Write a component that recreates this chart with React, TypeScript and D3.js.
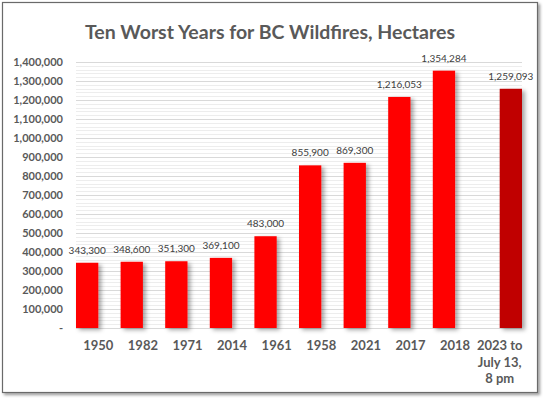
import React, { useEffect } from "react";
import * as d3 from "d3";

const categories: string[] = ["1950", "1982", "1971", "2014", "1961", "1958", "2021", "2017", "2018", "2023 to|July 13,|8 pm"];
const historicValues: (number | null)[] = [343300, 348600, 351300, 369100, 483000, 855900, 869300, 1216053, 1354284, null];
const currentValues: (number | null)[] = [null, null, null, null, null, null, null, null, null, 1259093];
const yTicks: number[] = [0, 100000, 200000, 300000, 400000, 500000, 600000, 700000, 800000, 900000, 1000000, 1100000, 1200000, 1300000, 1400000];

const W = 549;
const H = 401;
const FONT = "Lato, 'Open Sans', sans-serif";

export default function App() {
  useEffect(() => {
    document.body.style.margin = "0";
  }, []);

  const x = d3.scaleBand<string>().domain(categories).range([76, 522]).paddingInner(0).paddingOuter(0);
  const y = d3.scaleLinear().domain([0, 1400000]).range([328, 62]);
  const minorTicks = d3.range(0, 1400001, 20000).filter((v) => v % 100000 !== 0);
  const fmt = d3.format(",");
  const bw = x.bandwidth() / 2;

  const bars: { key: string; x: number; v: number; color: string }[] = [];
  categories.forEach((c, i) => {
    const a = historicValues[i];
    const b = currentValues[i];
    if (a != null) bars.push({ key: c + "a", x: x(c)!, v: a, color: "#FF0000" });
    if (b != null) bars.push({ key: c + "b", x: x(c)! + bw, v: b, color: "#C00000" });
  });

  return (
    <svg width={W} height={H} style={{ display: "block" }} fontFamily={FONT}>
      <defs>
        <filter id="barShadow" x="-30%" y="-10%" width="170%" height="130%">
          <feDropShadow dx="3" dy="2" stdDeviation="2" floodColor="#000" floodOpacity="0.35" />
        </filter>
        <filter id="frameShadow" x="-5%" y="-5%" width="110%" height="110%">
          <feDropShadow dx="2" dy="2" stdDeviation="1.5" floodColor="#000" floodOpacity="0.4" />
        </filter>
      </defs>
      <rect x={0} y={0} width={W} height={H} fill="#fff" />
      <rect x={2.5} y={2.5} width={535} height={390} fill="#fff" stroke="#6b6b6b" strokeWidth={1.2} filter="url(#frameShadow)" />
      <text x={270} y={39} textAnchor="middle" fontSize={19.5} fontWeight={700} fill="#595959">
        Ten Worst Years for BC Wildfires, Hectares
      </text>
      {minorTicks.map((t) => (
        <line key={"m" + t} x1={76} x2={522} y1={Math.round(y(t)) + 0.5} y2={Math.round(y(t)) + 0.5} stroke="#ededed" strokeWidth={1} />
      ))}
      {yTicks.map((t) => (
        <line key={"g" + t} x1={76} x2={522} y1={Math.round(y(t)) + 0.5} y2={Math.round(y(t)) + 0.5} stroke="#d9d9d9" strokeWidth={1} />
      ))}
      {yTicks.map((t) => (
        <text key={"yt" + t} x={63} y={y(t)} dy="0.35em" textAnchor="end" fontSize={11} fontWeight={700} fill="#595959">
          {t === 0 ? "-" : fmt(t)}
        </text>
      ))}
      {bars.map((b) => (
        <rect key={b.key} x={b.x} y={y(b.v)} width={bw} height={y(0) - y(b.v)} fill={b.color} filter="url(#barShadow)" />
      ))}
      {bars.map((b) => (
        <text key={"l" + b.key} x={b.x + bw / 2} y={y(b.v) - 9} textAnchor="middle" fontSize={10} fill="#404040">
          {fmt(b.v)}
        </text>
      ))}
      {categories.map((c) => (
        <text key={"c" + c} x={x(c)! + x.bandwidth() / 2} y={350} textAnchor="middle" fontSize={13} fontWeight={700} fill="#595959">
          {c.split("|").map((line, i) => (
            <tspan key={i} x={x(c)! + x.bandwidth() / 2} dy={i === 0 ? 0 : 16.5}>
              {line}
            </tspan>
          ))}
        </text>
      ))}
    </svg>
  );
}
